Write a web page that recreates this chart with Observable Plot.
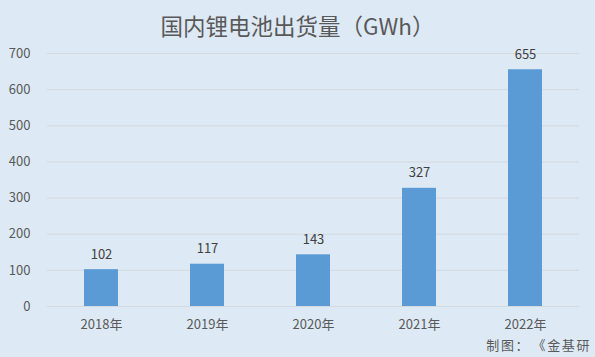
<!DOCTYPE html>
<html><head><meta charset="utf-8">
<script src="https://cdn.jsdelivr.net/npm/d3@7"></script>
<script src="https://cdn.jsdelivr.net/npm/@observablehq/plot@0.6"></script>
<style>
html,body{margin:0;padding:0;background:#dde9f5;}
#wrap{position:relative;width:595px;height:357px;overflow:hidden;background:#dde9f5;font-family:"Noto Sans CJK SC","Noto Sans",sans-serif;}
#title{box-sizing:border-box;height:36px;padding-top:11px;text-align:center;font-size:22.5px;line-height:28px;color:#595959;white-space:nowrap;}
#caption{position:absolute;right:4px;bottom:3px;font-size:13px;letter-spacing:1.6px;color:#595959;white-space:nowrap;}
#caption .colon{margin-right:9px;}
svg{display:block;}
</style></head>
<body><div id="wrap"><div id="title">国内锂电池出货量（GWh）</div><div id="chart"></div><div id="caption">制图<span class="colon">：</span>《金基研</div></div>
<script>
const years = ["2018年","2019年","2020年","2021年","2022年"];
const values = [102,117,143,327,655];
const yTicks = [0,100,200,300,400,500,600,700];
const data = years.map((y,i)=>({year:y,value:values[i]}));
const font = '"Noto Sans CJK SC","Noto Sans",sans-serif';
const plot = Plot.plot({
  width:595, height:321,
  marginLeft:47, marginRight:16, marginTop:17, marginBottom:51,
  style:{background:"transparent", fontFamily:font, fontSize:"13px", color:"#595959"},
  x:{domain:years, paddingInner:0.68, paddingOuter:0.34, label:null},
  y:{domain:[0,700], ticks:yTicks, label:null},
  marks:[
    Plot.ruleY(yTicks,{stroke:"#d5d9de", strokeWidth:1}),
    Plot.barY(data,{x:"year", y:"value", fill:"#5b9bd5"}),
    Plot.text(data,{x:"year", y:"value", text:d=>String(d.value), dy:-15, fill:"#404040", fontSize:13}),
    Plot.axisY({ticks:yTicks, tickSize:0, tickPadding:17, fontSize:13, fill:"#595959"}),
    Plot.axisX({tickSize:0, tickPadding:13, fontSize:13, fill:"#595959"})
  ]
});
document.getElementById("chart").appendChild(plot);
</script></body></html>
